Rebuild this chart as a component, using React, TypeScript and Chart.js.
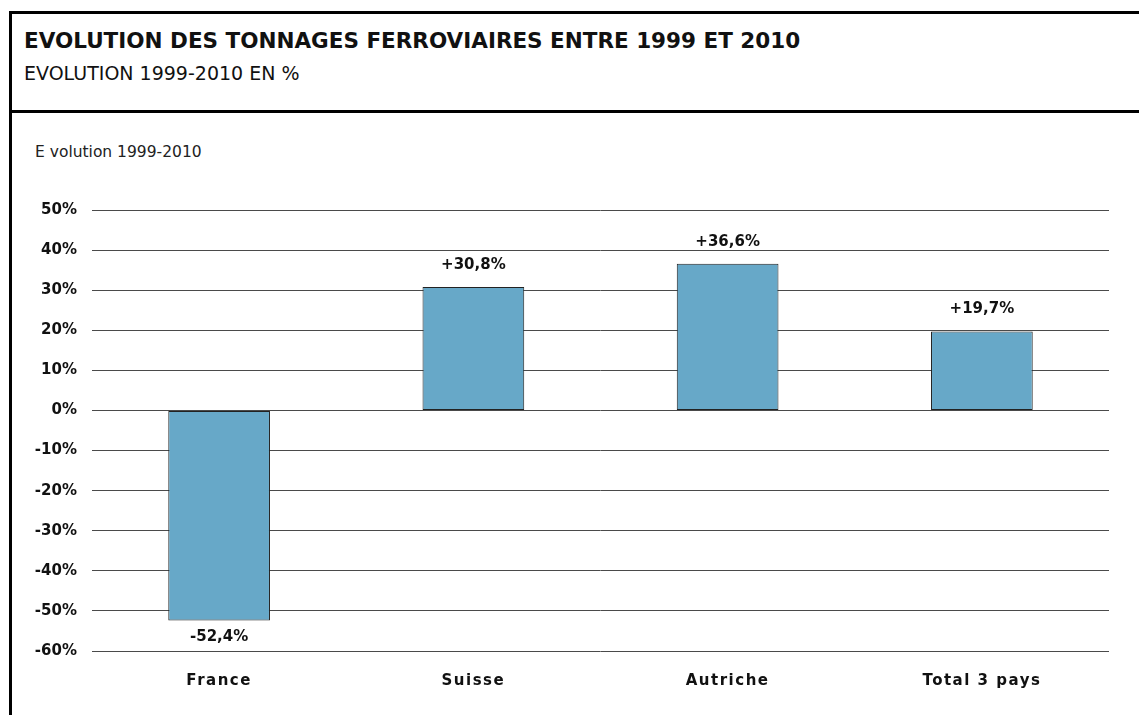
import React, { useEffect, useRef } from 'react';
import { Chart, registerables } from 'chart.js';

Chart.register(...registerables);

const categories = ['France', 'Suisse', 'Autriche', 'Total 3 pays'];
const evolution = [-52.4, 30.8, 36.6, 19.7];
const valueLabels = ['-52,4%', '+30,8%', '+36,6%', '+19,7%'];
const yMin = -60;
const yMax = 50;
const yStep = 10;
const titleText = 'EVOLUTION DES TONNAGES FERROVIAIRES ENTRE 1999 ET 2010';
const subtitleText = 'EVOLUTION 1999-2010 EN %';
const axisTitleText = 'E volution 1999-2010';

const FONT = "'DejaVu Sans', sans-serif";

const valueLabelPlugin = {
  id: 'valueLabels',
  afterDatasetsDraw(chart: any) {
    const ctx = chart.ctx;
    const meta = chart.getDatasetMeta(0);
    ctx.save();
    ctx.font = `bold 15px ${FONT}`;
    ctx.fillStyle = '#111';
    ctx.textAlign = 'center';
    ctx.textBaseline = 'middle';
    meta.data.forEach((bar: any, i: number) => {
      const v = evolution[i];
      const y = v >= 0 ? bar.y - 22 : bar.y + 17;
      ctx.fillText(valueLabels[i], bar.x, y);
    });
    ctx.restore();
  },
};

const letterSpacingPlugin = {
  id: 'xLetterSpacing',
  afterLayout(chart: any) {
    const xs = chart.scales.x;
    if (xs && !xs.__spaced) {
      const orig = xs.drawLabels.bind(xs);
      xs.drawLabels = (area: any) => {
        const ctx = chart.ctx;
        ctx.save();
        (ctx as any).letterSpacing = '1.5px';
        orig(area);
        ctx.restore();
      };
      xs.__spaced = true;
    }
  },
};

function ChartCanvas() {
  const ref = useRef<HTMLCanvasElement | null>(null);
  useEffect(() => {
    if (!ref.current) return;
    const chart = new Chart(ref.current, {
      type: 'bar',
      data: {
        labels: categories,
        datasets: [
          {
            data: evolution,
            backgroundColor: '#67a8c8',
            borderColor: '#222',
            borderWidth: 1,
            borderSkipped: false,
            barPercentage: 0.4,
            categoryPercentage: 1,
          },
        ],
      },
      options: {
        animation: false,
        responsive: false,
        maintainAspectRatio: false,
        layout: { padding: { left: 0, right: 30, top: 97, bottom: 0 } },
        plugins: {
          legend: { display: false },
          tooltip: { enabled: false },
          title: { display: false },
        },
        scales: {
          x: {
            grid: { display: false, drawTicks: false },
            border: { display: false },
            ticks: {
              padding: 21,
              color: '#111',
              font: { family: FONT, size: 15, weight: 'bold' },
              maxRotation: 0,
              autoSkip: false,
            },
            afterFit(scale: any) {
              scale.height = 64;
            },
          },
          y: {
            min: yMin,
            max: yMax,
            grid: { color: '#4a4a4a', lineWidth: 1, drawTicks: false },
            border: { display: false },
            ticks: {
              stepSize: yStep,
              padding: 15,
              color: '#111',
              font: { family: FONT, size: 15, weight: 'bold' },
              callback: (v: any) => `${v}%`,
            },
            afterFit(scale: any) {
              scale.width = 80;
            },
          },
        },
      },
      plugins: [valueLabelPlugin, letterSpacingPlugin],
    });
    return () => chart.destroy();
  }, []);
  return <canvas ref={ref} width={1127} height={602} style={{ display: 'block' }} />;
}

export default function App() {
  return (
    <div
      style={{
        position: 'absolute',
        left: 0,
        top: 0,
        width: 1139,
        height: 715,
        background: '#fff',
        overflow: 'hidden',
        fontFamily: FONT,
        color: '#111',
      }}
    >
      <div style={{ position: 'absolute', left: 9, top: 11, width: 1130, height: 3, background: '#000' }} />
      <div style={{ position: 'absolute', left: 9, top: 11, width: 3, height: 704, background: '#000' }} />
      <div style={{ position: 'absolute', left: 9, top: 110, width: 1130, height: 3, background: '#000' }} />
      <div
        style={{
          position: 'absolute',
          left: 24,
          top: 30,
          fontSize: 21.5,
          lineHeight: '21.5px',
          fontWeight: 'bold',
          whiteSpace: 'nowrap',
        }}
      >
        {titleText}
      </div>
      <div
        style={{
          position: 'absolute',
          left: 24,
          top: 64,
          fontSize: 19,
          lineHeight: '19px',
          whiteSpace: 'nowrap',
        }}
      >
        {subtitleText}
      </div>
      <div
        style={{
          position: 'absolute',
          left: 35,
          top: 145,
          fontSize: 15.5,
          lineHeight: '15.5px',
          whiteSpace: 'nowrap',
          color: '#222',
        }}
      >
        {axisTitleText}
      </div>
      <div style={{ position: 'absolute', left: 12, top: 113 }}>
        <ChartCanvas />
      </div>
    </div>
  );
}
